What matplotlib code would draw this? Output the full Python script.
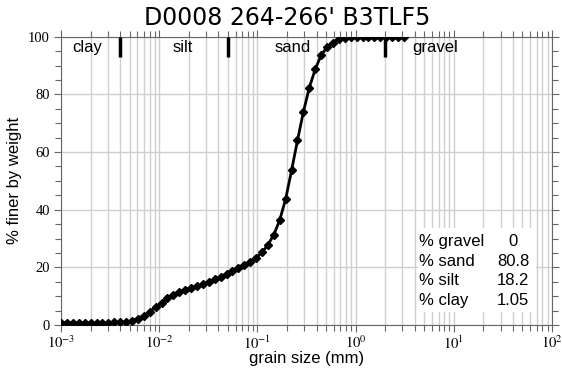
import matplotlib
matplotlib.use("Agg")
import matplotlib.pyplot as plt
import matplotlib.ticker as mticker
import numpy as np

# grain size (mm), 1/5-phi steps
grain_mm = [0.001, 0.00115, 0.00132, 0.00152, 0.00174, 0.002, 0.0023, 0.00264,
            0.00303, 0.00348, 0.004, 0.0046, 0.00528, 0.00606, 0.00696, 0.008,
            0.00919, 0.01056, 0.01213, 0.01393, 0.016, 0.01838, 0.02111, 0.02425,
            0.02786, 0.032, 0.03676, 0.04222, 0.0485, 0.05572, 0.064, 0.07352,
            0.08445, 0.097, 0.11143, 0.128, 0.14703, 0.1689, 0.19401, 0.22286,
            0.256, 0.29407, 0.33779, 0.38802, 0.44572, 0.512, 0.58813, 0.67559,
            0.77604, 0.89144, 1.024, 1.17627, 1.35118, 1.55209, 1.78289, 2.048,
            2.35253, 2.70235, 3.10419]
pct_finer = [0.8, 0.8, 0.8, 0.8, 0.8, 0.8, 0.8, 0.8, 0.8, 0.9,
             1.0, 1.1, 1.5, 2.2, 3.2, 4.6, 6.2, 7.8, 9.2, 10.5,
             11.5, 12.3, 12.9, 13.5, 14.2, 15.0, 15.9, 16.7, 17.6, 18.6,
             19.6, 20.7, 21.9, 23.3, 25.2, 27.8, 31.3, 36.4, 43.7, 53.6,
             64.0, 73.9, 82.3, 88.7, 93.6, 96.3, 97.9, 99.1, 99.7, 100,
             100, 100, 100, 100, 100, 100, 100, 100, 100]

class_bounds = [0.004, 0.05, 2.0]
class_names = ["clay", "silt", "sand", "gravel"]
class_label_x = [0.022, 0.228, 0.436, 0.715]   # axes fraction

stat_names = ["% gravel", "% sand", "% silt", "% clay"]
stat_values = ["0", "80.8", "18.2", "1.05"]

title = "D0008 264-266' B3TLF5"

plt.rcParams["mathtext.fontset"] = "stix"
SANS = ["Liberation Sans", "DejaVu Sans"]

fig = plt.figure(figsize=(5.62, 3.74), dpi=100)
ax = fig.add_axes([0.1085, 0.1310, 0.8737, 0.7709])

ax.plot(grain_mm, pct_finer, color="black", lw=2, marker="D", ms=4.5, zorder=4)

ax.set_xscale("log")
ax.set_xlim(1e-3, 1e2)
ax.set_ylim(0, 100)

ax.xaxis.set_major_locator(mticker.LogLocator(base=10, numticks=10))
ax.xaxis.set_minor_locator(mticker.LogLocator(base=10, subs=np.arange(2, 10), numticks=10))
ax.xaxis.set_minor_formatter(mticker.NullFormatter())
ax.xaxis.set_major_formatter(mticker.FuncFormatter(lambda v, p: r"$10^{%d}$" % round(np.log10(v))))
ax.yaxis.set_major_locator(mticker.MultipleLocator(20))
ax.yaxis.set_minor_locator(mticker.MultipleLocator(5))

ax.grid(True, which="both", axis="x", color="#cfcfcf", lw=1)
ax.grid(True, which="major", axis="y", color="#cfcfcf", lw=1)
ax.set_axisbelow(True)

for s in ax.spines.values():
    s.set_color("#666666")
    s.set_linewidth(0.8)

ax.tick_params(which="both", direction="out", top=True, right=True, color="#666666",
               labelsize=10.5, labelfontfamily="Liberation Serif")
ax.tick_params(which="major", length=5, width=0.8, pad=2)
ax.tick_params(which="minor", length=4, width=0.8)
ax.tick_params(axis="y", pad=3)

# class boundary marks along the top
for b in class_bounds:
    ax.plot([b, b], [100, 93], color="black", lw=2.5, solid_capstyle="butt", zorder=5)
for name, xf in zip(class_names, class_label_x):
    ax.text(xf, 0.962, name, transform=ax.transAxes, ha="left", va="center",
            fontsize=12, family=SANS)

# summary box
ax.add_patch(plt.Rectangle((0.728, 0.045), 0.24, 0.29, transform=ax.transAxes,
                           facecolor="white", edgecolor="none", zorder=3))
for i, (n, v) in enumerate(zip(stat_names, stat_values)):
    yf = 0.289 - i * 0.068
    ax.text(0.729, yf, n, transform=ax.transAxes, ha="left", va="center",
            fontsize=12, family=SANS, zorder=6)
    ax.text(0.921, yf, v, transform=ax.transAxes, ha="center", va="center",
            fontsize=12, family=SANS, zorder=6)

ax.set_xlabel("grain size (mm)", fontsize=12, family=SANS, labelpad=-1)
ax.set_ylabel("% finer by weight", fontsize=12, family=SANS, labelpad=4)
fig.text(287 / 562, 0.953, title, ha="center", va="center", fontsize=17,
         family=["DejaVu Sans"])

fig.savefig("out.png", dpi=100)
